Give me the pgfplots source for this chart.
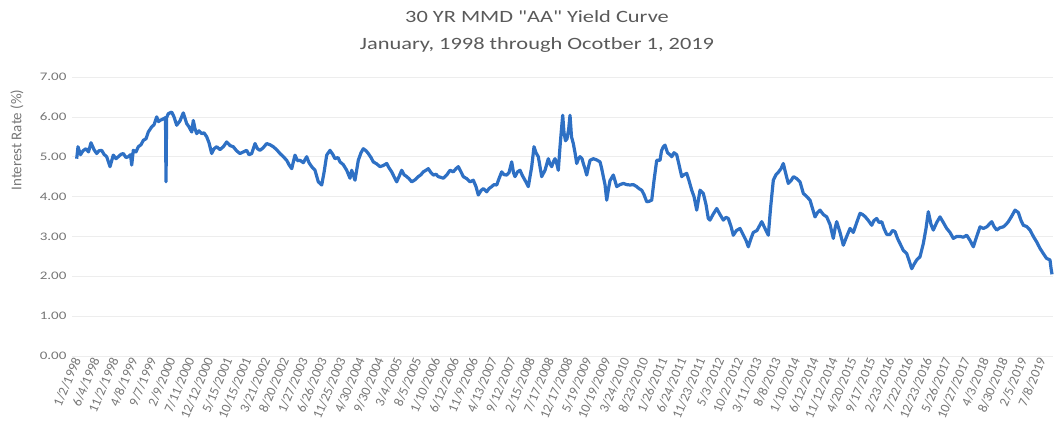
\documentclass[border=0pt]{standalone}
\usepackage{fontspec}
\setmainfont{Carlito}[FakeStretch=1.3]
\newfontfamily\plainfont{Carlito}
\newfontfamily\titlefont{Carlito}[FakeStretch=1.3, Ligatures=TeXOff]
\usepackage{pgfplots}
\pgfplotsset{compat=1.18}
\usepackage{pgfplotstable}

\definecolor{mmdblue}{RGB}{46,112,196}
\definecolor{titlegray}{RGB}{90,90,90}
\definecolor{tickgray}{RGB}{118,118,118}

% pos = horizontal position along the category axis (tick k sits at 76+18.92k), val = yield in %
\pgfplotstableread{
pos val
76.7 4.95
78 5.25
80.5 5.05
83 5.15
86 5.20
88.5 5.12
91 5.35
94 5.18
96.7 5.08
99 5.15
101.7 5.16
104 5.06
106.7 5.00
110 4.75
113.3 5.04
116 4.95
118.3 5.00
121 5.06
123.3 5.08
126 4.98
128.3 5.00
130.5 5.05
131.7 4.79
133.3 5.16
136 5.12
138.3 5.25
141 5.30
143.3 5.41
146 5.45
148.3 5.62
151.7 5.75
154 5.80
156.7 6.00
158.5 5.88
160 5.91
163.3 5.95
165.5 5.98
166 4.37
166.6 5.98
168.3 6.08
171.7 6.12
174 6.00
176.7 5.79
180 5.90
183.3 6.10
186.7 5.83
189 5.75
191.7 5.62
193.3 5.91
195 5.70
196.7 5.58
199 5.65
201.7 5.58
204 5.60
206.7 5.50
209 5.35
211.7 5.08
214 5.20
216.7 5.25
220 5.18
223.3 5.25
226.7 5.37
230 5.28
233.3 5.25
236.5 5.15
240 5.08
243.3 5.12
246.7 5.16
249 5.05
251.7 5.08
255 5.33
257.5 5.20
260 5.16
263 5.22
266.7 5.33
270 5.30
273.3 5.25
276.5 5.18
280 5.08
283.3 5.00
286.7 4.91
289 4.80
291.7 4.70
295 5.04
297.5 4.90
300 4.91
303.3 4.85
306.7 5.00
309 4.85
311.7 4.75
315 4.66
318.3 4.37
321.7 4.29
324 4.60
326.7 5.04
330 5.16
333 5.05
335 4.95
338 4.98
340 4.87
343.3 4.80
346.7 4.66
350 4.46
351.7 4.66
355 4.41
358.3 4.91
361 5.10
363.3 5.20
366 5.15
368.3 5.08
371 4.98
373.3 4.87
376.7 4.82
380 4.75
383.3 4.78
386.7 4.83
389 4.72
391.7 4.62
394 4.50
396.7 4.37
399 4.50
401.7 4.66
404 4.55
406.7 4.50
409 4.45
411.7 4.37
415 4.42
418.3 4.50
421 4.55
423.3 4.62
426 4.66
428.3 4.70
431 4.60
433.3 4.54
436 4.56
438.3 4.50
441 4.48
443.3 4.46
447 4.55
450 4.66
453.3 4.62
456 4.70
458.3 4.75
461 4.62
463.3 4.50
466.7 4.45
470 4.37
473.3 4.41
476 4.25
478.3 4.04
481 4.15
483.3 4.20
486.7 4.12
489 4.20
491.7 4.25
494 4.30
496.7 4.29
499 4.45
501.7 4.62
504 4.55
506.7 4.54
509 4.60
511.7 4.87
513.5 4.60
515 4.50
517.5 4.62
520 4.66
522.5 4.52
525 4.41
528.3 4.25
531.7 4.75
534 5.25
536 5.10
538.3 5.00
540 4.75
541.7 4.50
545 4.66
548.3 4.95
550 4.82
551.7 4.75
553.5 4.88
555 4.95
557 4.80
558.3 4.66
560 5.25
561.5 5.70
562.7 6.04
564 5.60
565.5 5.40
567 5.45
568.7 5.70
570 6.04
571.5 5.50
573.3 5.33
575 5.10
576.7 4.83
578.5 4.95
580 5.00
582 4.95
583.3 4.83
585 4.70
586.7 4.54
588.5 4.75
590 4.91
593.3 4.95
596.7 4.92
600 4.87
601.7 4.70
603.3 4.50
605 4.30
606.7 3.91
608.5 4.20
610 4.40
613.3 4.54
615 4.40
616.7 4.25
620 4.30
623.3 4.33
626.7 4.30
630 4.29
633.3 4.30
636.7 4.25
639 4.20
641.7 4.16
644 4.05
646.7 3.87
649 3.88
651.7 3.91
654 4.40
656.7 4.91
660 4.91
661.5 5.15
663.3 5.25
665 5.29
667.5 5.10
670 5.05
671.7 5.00
674 5.10
676.7 5.05
679 4.80
681.7 4.50
684 4.55
686.7 4.58
689 4.40
691.7 4.16
694 4.00
696.7 3.66
700 4.16
703.3 4.08
706 3.80
708.3 3.45
710 3.41
713 3.55
716.7 3.70
720 3.55
723.3 3.41
726 3.48
728.3 3.45
731 3.25
733.3 3.03
736.5 3.15
740 3.20
743 3.05
746 2.90
748.3 2.74
751 2.95
753.3 3.10
757 3.15
761.7 3.37
765 3.20
768.3 3.03
770.5 3.70
773.3 4.41
776 4.55
778 4.60
781 4.70
783.3 4.83
786 4.55
788.3 4.33
791 4.40
793.5 4.50
796.7 4.45
800 4.37
803.3 4.08
806.7 4.00
810 3.91
812.5 3.70
815 3.49
817.5 3.60
820 3.66
823.3 3.55
826.7 3.49
830 3.30
833.3 2.95
835 3.20
836.7 3.37
840 3.10
843.3 2.78
846.7 3.00
850 3.20
853.3 3.10
856.7 3.35
860 3.58
862.5 3.55
865 3.50
868.3 3.40
871.7 3.28
874 3.40
876.7 3.45
879 3.35
881.7 3.37
884 3.20
886.7 3.05
890 3.05
892.5 3.15
895 3.12
897.5 2.95
900 2.82
903.3 2.65
906.7 2.57
909 2.40
911.7 2.19
914 2.30
916.7 2.41
920 2.49
923.3 2.82
926 3.20
928.3 3.62
931 3.30
933.3 3.16
936.7 3.35
940 3.49
943.3 3.35
946.7 3.20
950 3.10
953.3 2.95
956.7 3.00
960 3.00
963.3 2.98
966.7 3.03
970 2.90
973.3 2.74
976.7 3.00
980 3.24
983.3 3.20
986.7 3.24
989 3.30
991.7 3.37
994 3.25
996.7 3.16
1000 3.22
1003.3 3.24
1006 3.30
1008.3 3.37
1011.5 3.50
1015 3.66
1018.3 3.60
1021 3.40
1023.3 3.28
1026.5 3.25
1030 3.16
1033.3 3.00
1036.7 2.86
1040 2.70
1043.3 2.57
1046.5 2.45
1050 2.41
1051 2.20
1052 2.05
}\mmd

\begin{document}
\begin{tikzpicture}[x=1bp,y=1bp]
\useasboundingbox (-72,-86) rectangle (982,356);
\begin{axis}[
    at={(0,0)}, anchor=south west,
    scale only axis,
    width=981bp, height=279bp,
    xmin=72, xmax=1053,
    ymin=0, ymax=7,
    ytick={0,1,...,7},
    xtick={76,94.92,...,1042},
    xticklabels={1/2/1998,6/4/1998,11/2/1998,4/8/1999,9/7/1999,2/9/2000,7/11/2000,12/12/2000,5/15/2001,10/15/2001,3/21/2002,8/20/2002,1/27/2003,6/26/2003,11/25/2003,4/30/2004,9/30/2004,3/4/2005,8/5/2005,1/10/2006,6/12/2006,11/9/2006,4/13/2007,9/12/2007,2/15/2008,7/17/2008,12/17/2008,5/19/2009,10/19/2009,3/24/2010,8/23/2010,1/26/2011,6/24/2011,11/23/2011,5/3/2012,10/2/2012,3/11/2013,8/8/2013,1/10/2014,6/12/2014,11/12/2014,4/20/2015,9/17/2015,2/23/2016,7/22/2016,12/23/2016,5/26/2017,10/27/2017,4/3/2018,8/30/2018,2/5/2019,7/8/2019},
    /pgf/number format/assume math mode=true,
    yticklabel={\pgfmathprintnumber[fixed,fixed zerofill,precision=2]{\tick}},
    ymajorgrids,
    grid style={draw=gray!14, line width=0.7bp},
    axis line style={draw=none},
    major tick length=0pt,
    yticklabel style={font=\fontsize{11.6}{13}\selectfont, text=tickgray, xshift=-2bp},
    xticklabel style={font=\plainfont\fontsize{13.5}{14}\selectfont, text=tickgray, rotate=67, anchor=east, inner sep=1.5bp, yshift=-2bp},
    clip=false,
]
\addplot[mmdblue, line width=3.2bp, line join=round] table[x=pos, y=val] {\mmd};
\end{axis}
\node[text=titlegray, font=\titlefont\fontsize{17.3}{20}\selectfont] at (465,339) {30 YR MMD "AA" Yield Curve};
\node[text=titlegray, font=\titlefont\fontsize{17.3}{20}\selectfont] at (465,311) {January, 1998 through Ocotber 1, 2019};
\node[text=tickgray, rotate=90, font=\plainfont\fontsize{15}{17}\selectfont] at (-55,216) {Interest Rate (\%)};
\end{tikzpicture}
\end{document}
